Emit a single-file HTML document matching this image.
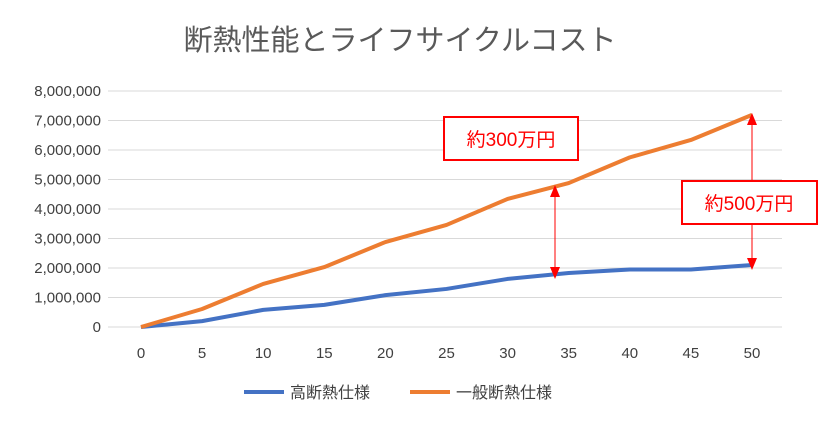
<!DOCTYPE html>
<html><head><meta charset="utf-8"><style>
body{margin:0;background:#fff;}
svg{font-family:"Liberation Sans","Noto Sans CJK JP",sans-serif;}
</style></head><body>
<svg id="c" width="818" height="423">
<text x="400" y="50" font-size="29" fill="#595959" text-anchor="middle">断熱性能とライフサイクルコスト</text>
<g id="grid"></g><g id="series"></g>
<g>
<line x1="555" y1="190" x2="555" y2="274" stroke="#f00" stroke-width="1"/>
<polygon points="555,185 550,197 560,197" fill="#f00"/>
<polygon points="555,279 550,267 560,267" fill="#f00"/>
<rect x="444" y="117" width="134" height="43" fill="#fff" stroke="#f00" stroke-width="2"/>
<text x="511" y="146" font-size="19" fill="#f00" text-anchor="middle">約300万円</text>
</g>
<g>
<line x1="752" y1="118" x2="752" y2="266" stroke="#f00" stroke-width="1"/>
<polygon points="752,113 747,125 757,125" fill="#f00"/>
<polygon points="752,270 747,258 757,258" fill="#f00"/>
<rect x="682" y="181" width="135" height="43" fill="#fff" stroke="#f00" stroke-width="2"/>
<text x="749" y="210" font-size="19" fill="#f00" text-anchor="middle">約500万円</text>
</g>
<g>
<line x1="244" y1="392" x2="284" y2="392" stroke="#4472c4" stroke-width="4"/>
<text x="290" y="398" font-size="16" fill="#404040">高断熱仕様</text>
<line x1="410" y1="392" x2="450" y2="392" stroke="#ed7d31" stroke-width="4"/>
<text x="456" y="398" font-size="16" fill="#404040">一般断熱仕様</text>
</g>
</svg>
<script>
const years=[0,5,10,15,20,25,30,35,40,45,50];
const high=[0,200000,580000,750000,1080000,1290000,1630000,1830000,1950000,1950000,2100000];
const normal=[0,610000,1460000,2030000,2880000,3460000,4340000,4880000,5750000,6340000,7190000];
const yTicks=[0,1000000,2000000,3000000,4000000,5000000,6000000,7000000,8000000];
const NS="http://www.w3.org/2000/svg";
const X=v=>141+v*(752-141)/50;
const Y=v=>327-v*(327-91)/8000000;
const g=document.getElementById('grid'),s=document.getElementById('series');
function mk(t,a,p){const e=document.createElementNS(NS,t);for(const k in a)e.setAttribute(k,a[k]);p.appendChild(e);return e;}
yTicks.forEach(v=>{
 const l=mk('line',{x1:108,x2:782,y1:Y(v),y2:Y(v),stroke:'#d9d9d9','stroke-width':1},g);
 
 
 const t=mk('text',{x:101,y:Y(v)+5,'font-size':15,fill:'#404040','text-anchor':'end'},g);
 t.textContent=v.toLocaleString('en-US');
 
 
});
years.forEach(v=>{
 const t=mk('text',{x:X(v),y:358,'font-size':15,fill:'#404040','text-anchor':'middle'},g);
 t.textContent=v;
 
 
});
function line(d,c,n){
 const p=mk('polyline',{points:d.map((v,i)=>X(years[i])+','+Y(v)).join(' '),fill:'none',stroke:c,'stroke-width':4,'stroke-linejoin':'round'},s);
 
 
}
line(high,'#4472c4','series-high-insulation');
line(normal,'#ed7d31','series-normal-insulation');
</script>
</body></html>
